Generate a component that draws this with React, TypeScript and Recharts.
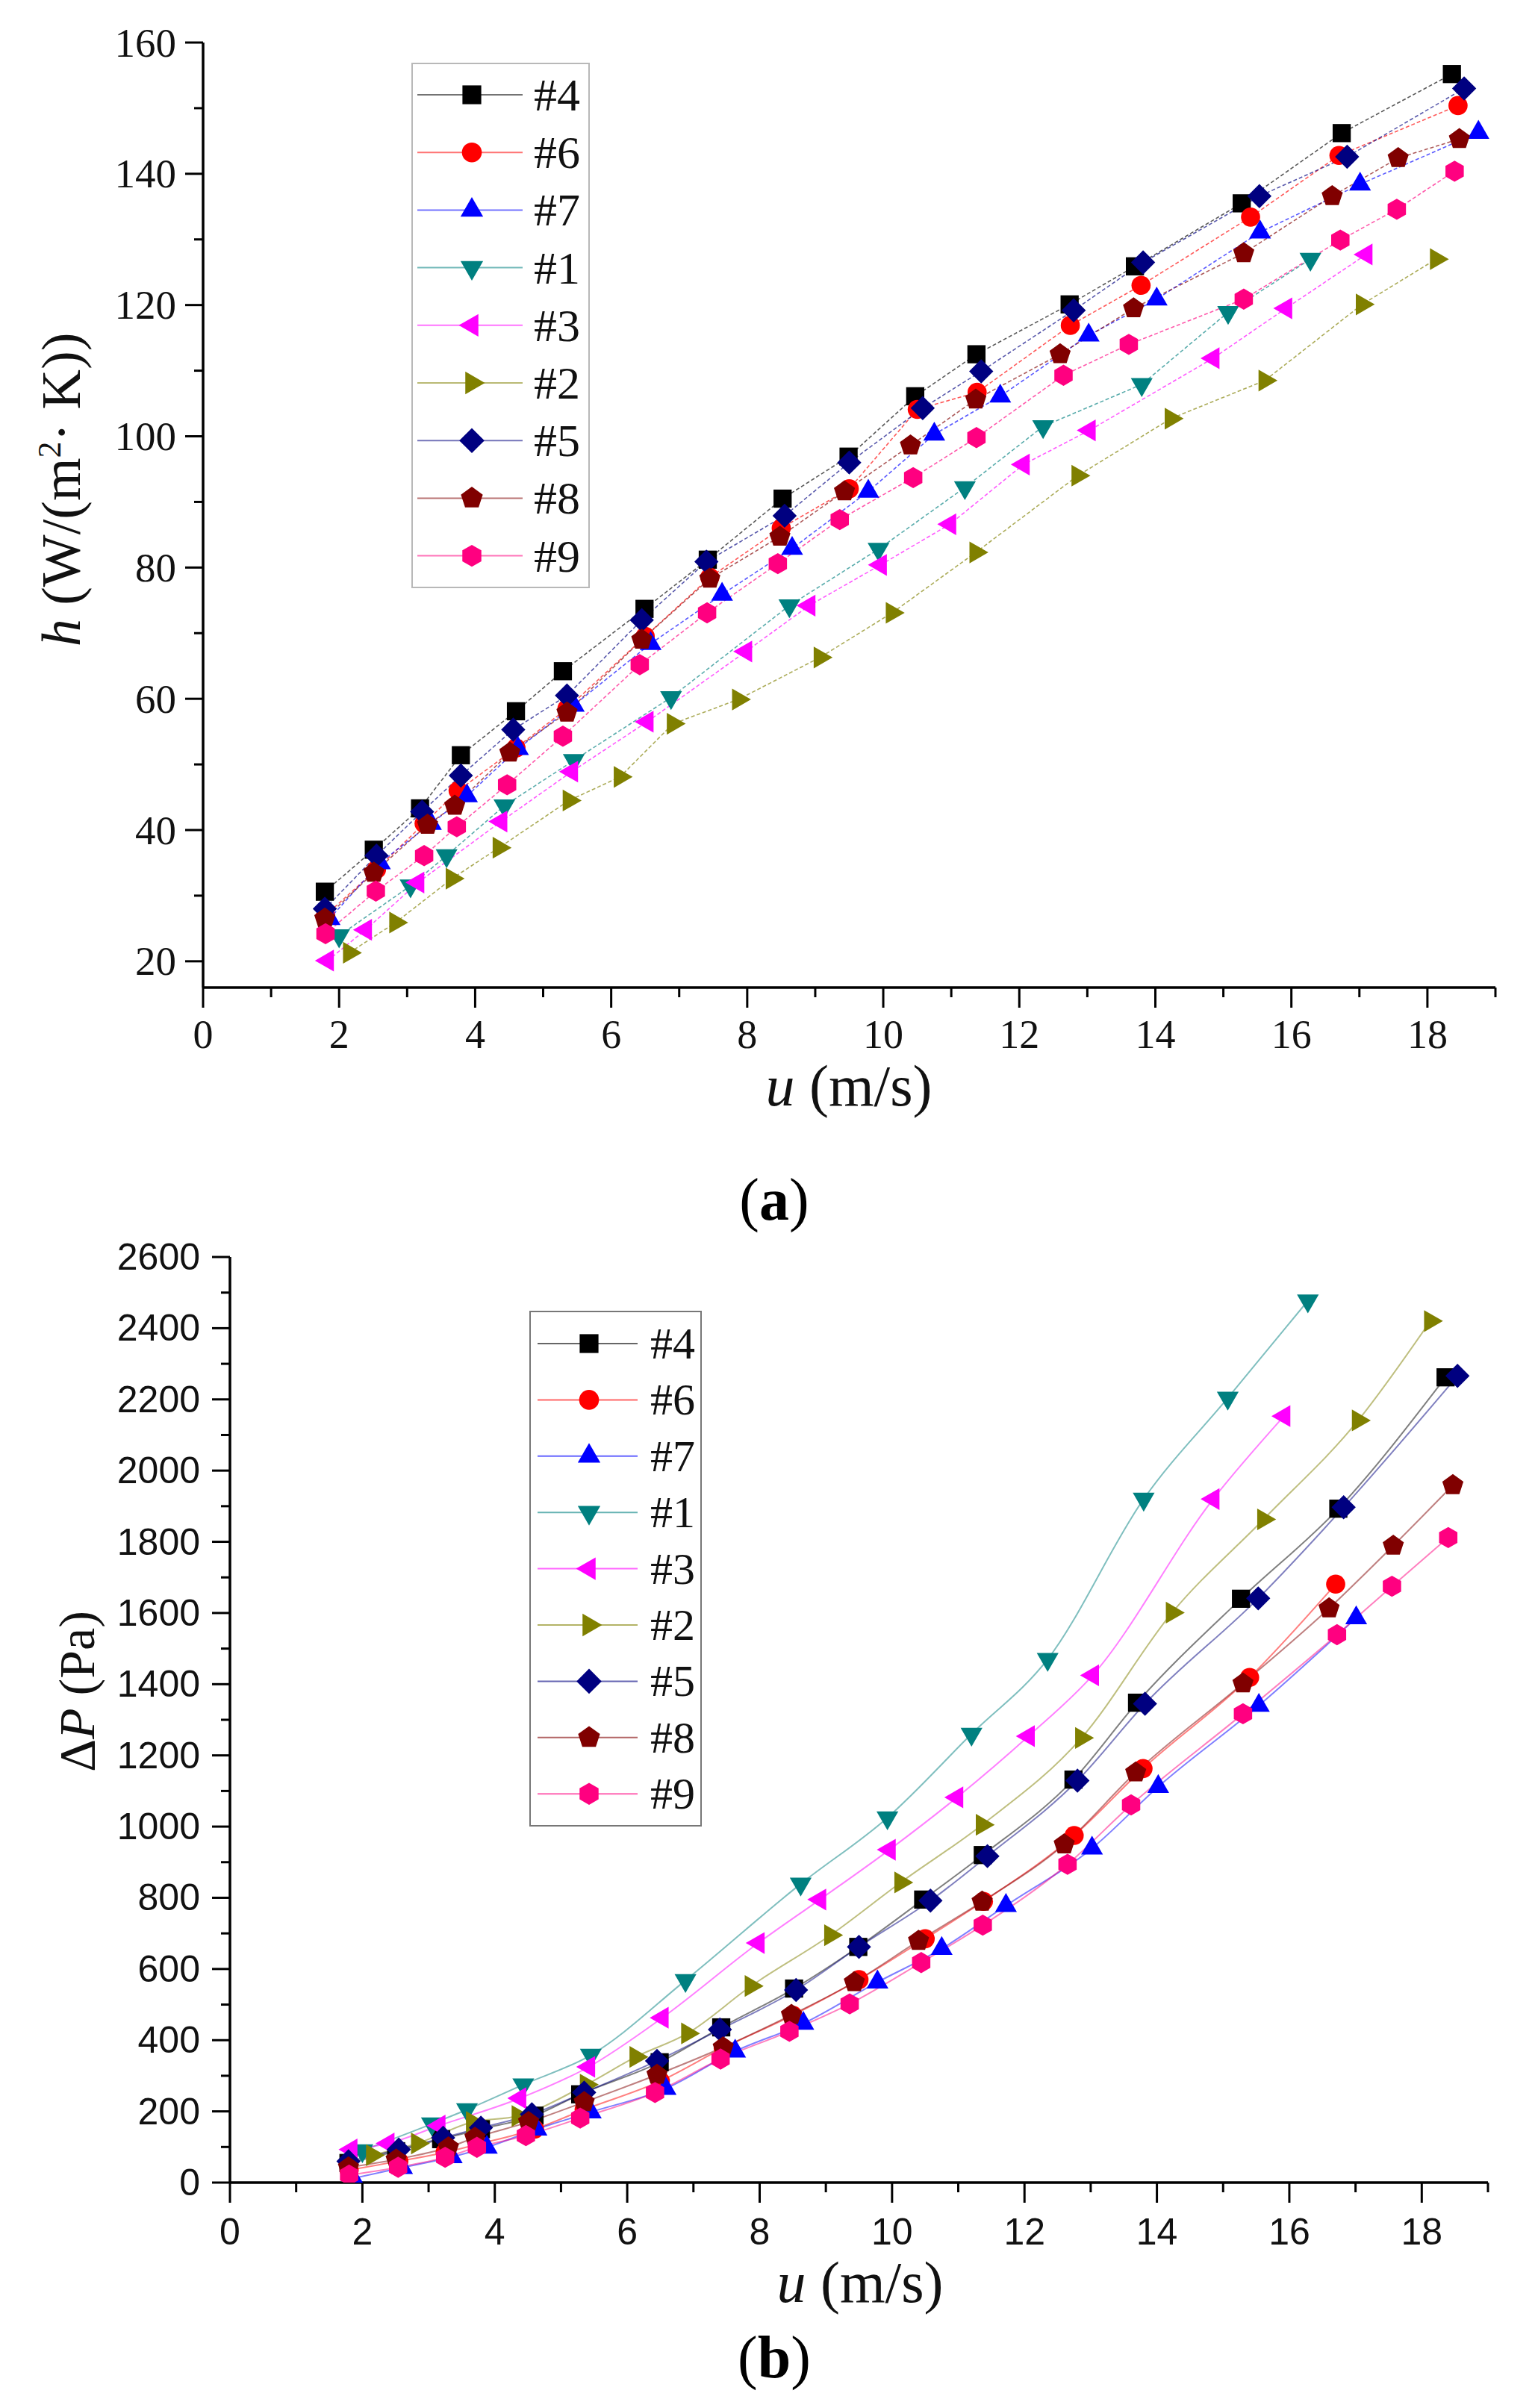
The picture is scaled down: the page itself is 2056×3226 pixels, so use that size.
import { LineChart, Line, XAxis, YAxis, Legend } from 'recharts';

// velocity (m/s) per sample, heat transfer coefficient h and pressure drop dP
const u4 = [1.79, 2.51, 3.19, 3.79, 4.6, 5.29, 6.49, 7.42, 8.52, 9.49, 10.47, 11.37, 12.74, 13.7, 15.27, 16.74, 18.36];
const h4 = [30.6, 37.0, 43.3, 51.4, 58.1, 64.2, 73.7, 81.2, 90.5, 96.9, 106.1, 112.5, 120.1, 125.9, 135.5, 146.2, 155.2];
const dp4 = [55, 88, 122, 150, 188, 248, 338, 436, 545, 662, 795, 920, 1132, 1348, 1640, 1893, 2262];

const u6 = [1.8, 2.55, 3.25, 3.75, 4.6, 5.35, 6.5, 7.45, 8.5, 9.5, 10.5, 11.38, 12.75, 13.79, 15.4, 16.7, 18.45];
const h6 = [27.0, 34.0, 41.0, 46.0, 52.5, 58.5, 69.5, 78.5, 86.0, 92.0, 104.1, 106.7, 116.9, 123.0, 133.4, 142.8, 150.4];
const dp6 = [35, 60, 85, 108, 150, 205, 285, 378, 470, 570, 685, 790, 975, 1163, 1419, 1681];

const u7 = [1.86, 2.6, 3.35, 3.88, 4.63, 5.45, 6.58, 7.63, 8.66, 9.78, 10.75, 11.72, 13.02, 14.02, 15.54, 17.01, 18.75];
const h7 = [26.5, 35.0, 41.0, 45.2, 52.4, 59.0, 68.4, 75.9, 82.9, 91.6, 100.3, 106.1, 115.4, 120.9, 131.1, 138.4, 146.3];
const dp7 = [12, 42, 72, 99, 150, 198, 264, 369, 447, 563, 657, 778, 939, 1112, 1340, 1586];

const u1 = [2.0, 3.05, 3.58, 4.43, 5.45, 6.88, 8.62, 9.93, 11.2, 12.35, 13.8, 15.07, 16.28];
const h1 = [23.9, 31.5, 36.1, 43.7, 50.6, 60.2, 74.2, 82.8, 92.2, 101.5, 107.9, 118.9, 127.0];
const dp1 = [90, 165, 205, 275, 358, 568, 839, 1025, 1260, 1470, 1920, 2204, 2477];

const u3 = [1.83, 2.39, 3.16, 4.38, 5.42, 6.53, 7.98, 8.91, 9.96, 10.98, 12.06, 13.03, 14.85, 15.92, 17.1];
const h3 = [20.1, 24.8, 32.0, 41.3, 48.9, 56.5, 67.2, 74.2, 80.4, 86.6, 95.7, 100.9, 111.9, 119.5, 127.7];
const dp3 = [93, 110, 160, 237, 325, 463, 673, 795, 935, 1082, 1254, 1425, 1920, 2153];

const u2 = [2.15, 2.83, 3.66, 4.35, 5.38, 6.13, 6.91, 7.87, 9.07, 10.13, 11.36, 12.86, 14.23, 15.61, 17.04, 18.13];
const h2 = [21.3, 25.9, 32.6, 37.3, 44.5, 48.1, 56.2, 59.9, 66.3, 73.1, 82.3, 94.0, 102.7, 108.5, 120.1, 127.0];
const dp2 = [77, 110, 170, 187, 275, 353, 419, 552, 695, 843, 1005, 1249, 1601, 1863, 2141, 2420];

const u5 = [1.79, 2.55, 3.22, 3.79, 4.56, 5.35, 6.45, 7.4, 8.55, 9.5, 10.58, 11.44, 12.8, 13.82, 15.53, 16.82, 18.54];
const h5 = [28.0, 36.1, 42.8, 48.3, 55.3, 60.5, 72.0, 80.9, 87.9, 96.0, 104.3, 109.9, 119.2, 126.5, 136.6, 142.6, 153.0];
const dp5 = [60, 93, 126, 154, 192, 253, 342, 430, 541, 662, 792, 917, 1129, 1345, 1641, 1897, 2266];

const u8 = [1.79, 2.51, 3.3, 3.7, 4.51, 5.35, 6.45, 7.45, 8.48, 9.43, 10.4, 11.36, 12.6, 13.68, 15.3, 16.6, 17.57, 18.47];
const h8 = [26.5, 33.5, 40.8, 43.7, 51.8, 57.9, 69.0, 78.3, 84.7, 91.6, 98.6, 105.6, 112.5, 119.5, 127.9, 136.6, 142.4, 145.3];
const dp8 = [43, 65, 99, 126, 170, 226, 303, 380, 471, 563, 679, 789, 950, 1152, 1402, 1613, 1789, 1959];

const u9 = [1.8, 2.54, 3.25, 3.73, 4.47, 5.29, 6.42, 7.41, 8.45, 9.36, 10.44, 11.37, 12.65, 13.61, 15.3, 16.72, 17.55, 18.4];
const h9 = [24.2, 30.7, 36.1, 40.5, 46.9, 54.3, 65.2, 73.1, 80.6, 87.3, 93.7, 99.8, 109.3, 114.0, 120.9, 129.9, 134.6, 140.4];
const dp9 = [21, 43, 71, 99, 132, 181, 253, 347, 425, 502, 618, 723, 894, 1061, 1317, 1539, 1675, 1812];

const xTicks = [0, 1, 2, 3, 4, 5, 6, 7, 8, 9, 10, 11, 12, 13, 14, 15, 16, 17, 18, 19];
const hTicks = [20, 30, 40, 50, 60, 70, 80, 90, 100, 110, 120, 130, 140, 150, 160];
const dpTicks = [0, 100, 200, 300, 400, 500, 600, 700, 800, 900, 1000, 1100, 1200, 1300, 1400, 1500, 1600, 1700, 1800, 1900, 2000, 2100, 2200, 2300, 2400, 2500, 2600];

type Shape = 'square' | 'circle' | 'up' | 'down' | 'left' | 'right' | 'diamond' | 'pentagon' | 'hexagon';

interface Series {
  name: string;
  color: string;
  shape: Shape;
  u: number[];
  h: number[];
  dp: number[];
}

const series: Series[] = [
  { name: '#4', color: '#000000', shape: 'square', u: u4, h: h4, dp: dp4 },
  { name: '#6', color: '#ff0000', shape: 'circle', u: u6, h: h6, dp: dp6 },
  { name: '#7', color: '#0000ff', shape: 'up', u: u7, h: h7, dp: dp7 },
  { name: '#1', color: '#008080', shape: 'down', u: u1, h: h1, dp: dp1 },
  { name: '#3', color: '#ff00ff', shape: 'left', u: u3, h: h3, dp: dp3 },
  { name: '#2', color: '#808000', shape: 'right', u: u2, h: h2, dp: dp2 },
  { name: '#5', color: '#000080', shape: 'diamond', u: u5, h: h5, dp: dp5 },
  { name: '#8', color: '#800000', shape: 'pentagon', u: u8, h: h8, dp: dp8 },
  { name: '#9', color: '#ff0080', shape: 'hexagon', u: u9, h: h9, dp: dp9 },
];

const SERIF = '"Liberation Serif", "Times New Roman", serif';
const SANS = '"Liberation Sans", Arial, sans-serif';

function polygon(cx: number, cy: number, n: number, r: number, startDeg: number) {
  const pts: string[] = [];
  for (let i = 0; i < n; i++) {
    const a = ((startDeg + (360 / n) * i) * Math.PI) / 180;
    pts.push(`${cx + r * Math.cos(a)},${cy + r * Math.sin(a)}`);
  }
  return pts.join(' ');
}

function Marker({ cx, cy, shape, color, r = 14 }: { cx?: number; cy?: number; shape: Shape; color: string; r?: number }) {
  if (cx == null || cy == null || isNaN(cx) || isNaN(cy)) return null;
  switch (shape) {
    case 'square':
      return <rect x={cx - r * 0.9} y={cy - r * 0.9} width={r * 1.8} height={r * 1.8} fill={color} />;
    case 'circle':
      return <circle cx={cx} cy={cy} r={r * 0.95} fill={color} />;
    case 'up':
      return <polygon points={polygon(cx, cy, 3, r * 1.25, -90)} fill={color} />;
    case 'down':
      return <polygon points={polygon(cx, cy, 3, r * 1.25, 90)} fill={color} />;
    case 'left':
      return <polygon points={polygon(cx, cy, 3, r * 1.25, 180)} fill={color} />;
    case 'right':
      return <polygon points={polygon(cx, cy, 3, r * 1.25, 0)} fill={color} />;
    case 'diamond':
      return <polygon points={polygon(cx, cy, 4, r * 1.2, -90)} fill={color} />;
    case 'pentagon':
      return <polygon points={polygon(cx, cy, 5, r * 1.1, -90)} fill={color} />;
    case 'hexagon':
      return <polygon points={polygon(cx, cy, 6, r * 1.05, -90)} fill={color} />;
  }
  return null;
}

// bottom axis tick: long tick + label on even values, short tick on odd ones
function makeXTick(font: string, size: number, labelDy: number) {
  return (p: any) => {
    const v = p.payload.value as number;
    const major = v % 2 === 0;
    return (
      <g>
        <line x1={p.x} x2={p.x} y1={p.y} y2={p.y + (major ? 27 : 13)} stroke="#000" strokeWidth={3} />
        {major && v <= 18 && (
          <text x={p.x} y={p.y + labelDy} textAnchor="middle" dominantBaseline="central" fontFamily={font} fontSize={size} fill="#111">
            {v}
          </text>
        )}
      </g>
    );
  };
}

function makeYTick(font: string, size: number, majorStep: number, gap: number) {
  return (p: any) => {
    const v = p.payload.value as number;
    const major = v % majorStep === 0;
    return (
      <g>
        <line x1={p.x - (major ? 24 : 12)} x2={p.x} y1={p.y} y2={p.y} stroke="#000" strokeWidth={3} />
        {major && (
          <text x={p.x - gap} y={p.y} textAnchor="end" dominantBaseline="central" fontFamily={font} fontSize={size} fill="#111">
            {v}
          </text>
        )}
      </g>
    );
  };
}

function LegendBox({ spacing, first, lineX: [lx1, lx2], markX, textX, fontSize, lineOpacity }: any) {
  const h = first * 2 + spacing * (series.length - 1);
  return (
    <svg width="100%" height={h} style={{ display: 'block' }}>
      {series.map((s, i) => {
        const y = first + i * spacing;
        return (
          <g key={s.name}>
            <line x1={lx1} x2={lx2} y1={y} y2={y} stroke={s.color} strokeOpacity={lineOpacity} strokeWidth={2} />
            <Marker cx={markX} cy={y} shape={s.shape} color={s.color} r={14} />
            <text x={textX} y={y} dominantBaseline="central" fontFamily={SERIF} fontSize={fontSize} fill="#111">
              {s.name}
            </text>
          </g>
        );
      })}
    </svg>
  );
}

const abs = (left: number, top: number, extra: React.CSSProperties = {}): React.CSSProperties => ({
  position: 'absolute',
  left,
  top,
  whiteSpace: 'nowrap',
  lineHeight: 1,
  ...extra,
});

export default function App() {
  const aData = series.map((s) => s.h.map((v, i) => ({ u: s.u[i], v })));
  const bData = series.map((s) => s.dp.map((v, i) => ({ u: s.u[i], v })));

  return (
    <div style={{ position: 'absolute', left: 0, top: 0, width: 2056, height: 3226, background: '#fff', overflow: 'hidden' }}>
      {/* (a) heat transfer coefficient */}
      <div style={abs(0, 0)}>
        <LineChart width={2056} height={1440} margin={{ top: 57, right: 53, left: 72, bottom: 57 }}>
          <XAxis
            type="number"
            dataKey="u"
            domain={[0, 19]}
            ticks={xTicks}
            interval={0}
            allowDataOverflow
            height={60}
            tickSize={0}
            tickMargin={0}
            tickLine={false}
            axisLine={{ stroke: '#000', strokeWidth: 3.5 }}
            tick={makeXTick(SERIF, 54, 63)}
          />
          <YAxis
            type="number"
            dataKey="v"
            domain={[16, 160]}
            ticks={hTicks}
            interval={0}
            allowDataOverflow
            width={200}
            tickSize={0}
            tickMargin={0}
            tickLine={false}
            axisLine={{ stroke: '#000', strokeWidth: 3.5 }}
            tick={makeYTick(SERIF, 55, 20, 36)}
          />
          <Legend
            layout="vertical"
            align="center"
            verticalAlign="middle"
            wrapperStyle={{ left: 551, top: 84, width: 235, border: '2px solid #b8b8b8', background: '#fff' }}
            content={() => (
              <LegendBox spacing={77.2} first={41} lineX={[6, 147]} markX={79} textX={162} fontSize={62} lineOpacity={0.55} />
            )}
          />
          {series.map((s, k) => (
            <Line
              key={s.name}
              data={aData[k]}
              dataKey="v"
              name={s.name}
              type="linear"
              stroke={s.color}
              strokeOpacity={0.65}
              strokeWidth={1.6}
              strokeDasharray="5 3"
              isAnimationActive={false}
              activeDot={false}
              dot={(p: any) => <Marker key={`a${k}-${p.index}`} cx={p.cx} cy={p.cy} shape={s.shape} color={s.color} r={13.5} />}
            />
          ))}
        </LineChart>
      </div>

      <div style={abs(82, 656, { transform: 'translate(-50%, -50%) rotate(-90deg)', fontFamily: SERIF, fontSize: 74, color: '#111' })}>
        <i>h</i> (W/(m<sup style={{ fontSize: 44 }}>2</sup>· K))
      </div>
      <div style={abs(1137, 1455, { transform: 'translate(-50%, -50%)', fontFamily: SERIF, fontSize: 78, color: '#111' })}>
        <i>u</i> (m/s)
      </div>
      <div style={abs(1037, 1607, { transform: 'translate(-50%, -50%)', fontFamily: SERIF, fontSize: 80, color: '#000' })}>
        (<b>a</b>)
      </div>

      {/* (b) pressure drop */}
      <div style={abs(0, 1620)}>
        <LineChart width={2056} height={1460} margin={{ top: 64, right: 63, left: 108, bottom: 96 }}>
          <XAxis
            type="number"
            dataKey="u"
            domain={[0, 19]}
            ticks={xTicks}
            interval={0}
            allowDataOverflow
            height={60}
            tickSize={0}
            tickMargin={0}
            tickLine={false}
            axisLine={{ stroke: '#000', strokeWidth: 3.5 }}
            tick={makeXTick(SANS, 50, 66)}
          />
          <YAxis
            type="number"
            dataKey="v"
            domain={[0, 2600]}
            ticks={dpTicks}
            interval={0}
            allowDataOverflow
            width={200}
            tickSize={0}
            tickMargin={0}
            tickLine={false}
            axisLine={{ stroke: '#000', strokeWidth: 3.5 }}
            tick={makeYTick(SANS, 50, 200, 40)}
          />
          <Legend
            layout="vertical"
            align="center"
            verticalAlign="middle"
            wrapperStyle={{ left: 709, top: 136, width: 227, border: '2px solid #777', background: '#fff' }}
            content={() => (
              <LegendBox spacing={75.4} first={42} lineX={[9, 143]} markX={78} textX={160} fontSize={60} lineOpacity={0.6} />
            )}
          />
          {series.map((s, k) => (
            <Line
              key={s.name}
              data={bData[k]}
              dataKey="v"
              name={s.name}
              type="monotone"
              stroke={s.color}
              strokeOpacity={0.5}
              strokeWidth={2}
              isAnimationActive={false}
              activeDot={false}
              dot={(p: any) => <Marker key={`b${k}-${p.index}`} cx={p.cx} cy={p.cy} shape={s.shape} color={s.color} r={13.5} />}
            />
          ))}
        </LineChart>
      </div>

      <div style={abs(103, 2266, { transform: 'translate(-50%, -50%) rotate(-90deg)', fontFamily: SERIF, fontSize: 68, color: '#111' })}>
        Δ<i>P</i> (Pa)
      </div>
      <div style={abs(1152, 3058, { transform: 'translate(-50%, -50%)', fontFamily: SERIF, fontSize: 78, color: '#111' })}>
        <i>u</i> (m/s)
      </div>
      <div style={abs(1037, 3158, { transform: 'translate(-50%, -50%)', fontFamily: SERIF, fontSize: 80, color: '#000' })}>
        (<b>b</b>)
      </div>
    </div>
  );
}
